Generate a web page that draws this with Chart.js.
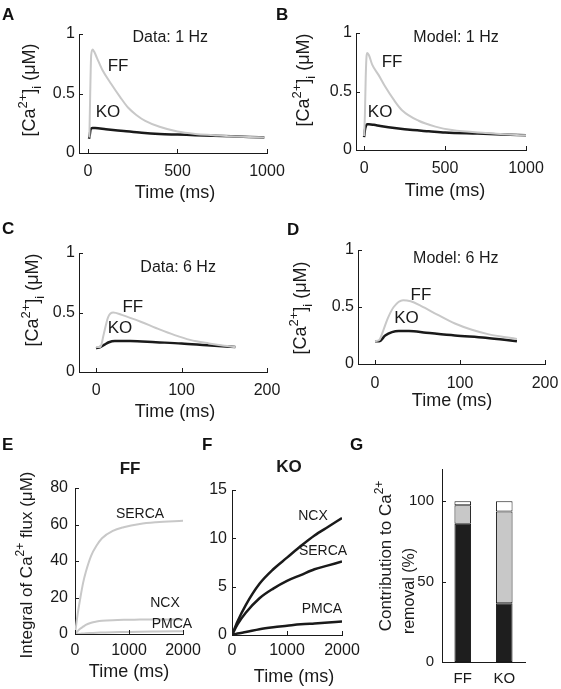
<!DOCTYPE html>
<html>
<head>
<meta charset="utf-8">
<script src="https://cdn.jsdelivr.net/npm/chart.js@4"></script>
<style>
  body { margin: 0; background: #fff; }
  #fig { position: relative; width: 561px; height: 689px; overflow: hidden; font-family: "Liberation Sans", Arial, sans-serif; }
  #fig canvas { position: absolute; }
  .tag { position: absolute; font-weight: bold; font-size: 17px; line-height: 17px; color: #111; }
</style>
</head>
<body>
<div id="fig">
  <canvas id="cA"></canvas><canvas id="cB"></canvas>
  <canvas id="cC"></canvas><canvas id="cD"></canvas>
  <canvas id="cE"></canvas><canvas id="cF"></canvas><canvas id="cG"></canvas>
  <div class="tag" style="left:2px;top:6px">A</div>
  <div class="tag" style="left:276px;top:6px">B</div>
  <div class="tag" style="left:2px;top:220px">C</div>
  <div class="tag" style="left:287px;top:221px">D</div>
  <div class="tag" style="left:2px;top:436px">E</div>
  <div class="tag" style="left:202px;top:436px">F</div>
  <div class="tag" style="left:350px;top:436px">G</div>
</div>
<script>
// A — datos 1 Hz
const A_T_FF = [8, 12, 18, 26, 35, 50, 80, 130, 180, 225, 270, 320, 400, 500, 600, 700, 800, 900, 985];
const A_FF   = [0.13, 0.45, 0.82, 0.87, 0.85, 0.80, 0.70, 0.58, 0.47, 0.38, 0.32, 0.27, 0.22, 0.18, 0.16, 0.15, 0.14, 0.135, 0.13];
const A_T_KO = [6, 10, 15, 25, 40, 100, 200, 300, 400, 500, 600, 700, 800, 900, 985];
const A_KO   = [0.12, 0.15, 0.20, 0.21, 0.21, 0.20, 0.185, 0.17, 0.16, 0.155, 0.15, 0.145, 0.14, 0.135, 0.13];

// B — modelo 1 Hz
const B_T_FF = [0, 5, 10, 15, 20, 30, 50, 90, 131, 183, 234, 337, 440, 543, 750, 1000];
const B_FF   = [0.12, 0.30, 0.62, 0.80, 0.83, 0.81, 0.73, 0.64, 0.54, 0.43, 0.34, 0.25, 0.20, 0.17, 0.145, 0.125];
const B_T_KO = [0, 5, 10, 18, 30, 60, 100, 200, 300, 400, 500, 700, 1000];
const B_KO   = [0.11, 0.17, 0.20, 0.22, 0.22, 0.215, 0.205, 0.185, 0.17, 0.16, 0.15, 0.14, 0.125];

// C — datos 6 Hz
const C_T_FF = [0, 5, 9, 14, 20, 30, 53, 70, 92, 110, 132, 150, 163];
const C_FF   = [0.21, 0.21, 0.32, 0.46, 0.50, 0.48, 0.42, 0.37, 0.31, 0.27, 0.24, 0.22, 0.21];
const C_T_KO = [0, 5, 10, 15, 22, 40, 70, 100, 130, 163];
const C_KO   = [0.20, 0.21, 0.23, 0.25, 0.26, 0.26, 0.25, 0.24, 0.225, 0.21];

// D — modelo 6 Hz
const D_T_FF = [0, 5, 10, 15, 22, 33, 42, 54, 74, 94, 114, 134, 154, 167];
const D_FF   = [0.20, 0.21, 0.30, 0.40, 0.50, 0.56, 0.55, 0.51, 0.43, 0.355, 0.30, 0.26, 0.235, 0.22];
const D_T_KO = [0, 5, 12, 20, 28, 40, 60, 94, 130, 167];
const D_KO   = [0.20, 0.20, 0.25, 0.28, 0.29, 0.29, 0.275, 0.25, 0.23, 0.20];

// E — integral de flujo FF
const E_T     = [0, 50, 100, 150, 200, 300, 400, 500, 700, 900, 1200, 1500, 2000];
const E_SERCA = [0, 11, 20, 28, 34, 43, 48.5, 52.5, 56.5, 58.5, 60.3, 61.2, 62];
const E_NCX   = [0, 1.6, 3, 4, 5, 6.2, 6.8, 7.2, 7.6, 7.8, 7.9, 8.0, 8.0];
const E_PMCA  = [0, 0.1, 0.2, 0.3, 0.4, 0.55, 0.7, 0.8, 1.0, 1.1, 1.25, 1.35, 1.5];

// F — integral de flujo KO
const F_T     = [0, 100, 250, 500, 750, 1000, 1250, 1500, 1750, 2000];
const F_NCX   = [0, 1.4, 3.1, 5.3, 6.8, 8.0, 9.2, 10.3, 11.2, 12.1];
const F_SERCA = [0, 1.1, 2.3, 3.8, 4.8, 5.6, 6.2, 6.8, 7.2, 7.6];
const F_PMCA  = [0, 0.15, 0.3, 0.6, 0.8, 0.95, 1.1, 1.2, 1.3, 1.4];

// G — contribución a la remoción (%)
const G_CATS  = ['FF', 'KO'];
const G_SERCA = [86, 36.5];
const G_NCX   = [11.5, 57];
const G_PMCA  = [2.5, 6.5];

// ticks
const TK_1HZ = [0, 500, 1000];
const TK_6HZ = [0, 100, 200];
const TK_CA  = [0, 0.5, 1];
const TK_FLX = [0, 1000, 2000];
const TK_E_Y = [0, 20, 40, 60, 80];
const TK_F_Y = [0, 5, 10, 15];
const TK_G_Y = [0, 50, 100];

const FONT = '"Liberation Sans", Arial, sans-serif';
const INK  = '#1a1a1a';
const GRAY = '#c8c8c8';

const pts = (t, v) => t.map((x, i) => ({ x, y: v[i] }));

function drawRich(ctx, r, org) {
  const size = r.size, small = Math.round(size * 0.7);
  const fnt = s => `${r.bold ? 'bold ' : ''}${s}px ${FONT}`;
  let w = 0;
  for (const [t, k] of r.segs) { ctx.font = fnt(k ? small : size); w += ctx.measureText(t).width; }
  ctx.save();
  ctx.translate(r.x - org[0], r.y - org[1]);
  if (r.rot) ctx.rotate(r.rot * Math.PI / 180);
  ctx.textAlign = 'left'; ctx.textBaseline = 'alphabetic'; ctx.fillStyle = INK;
  let x = -w / 2; const base = size * 0.36;
  for (const [t, k] of r.segs) {
    ctx.font = fnt(k ? small : size);
    const dy = k === 'sup' ? -size * 0.45 : k === 'sub' ? size * 0.28 : 0;
    ctx.fillText(t, x, base + dy);
    x += ctx.measureText(t).width;
  }
  ctx.restore();
}

const deco = {
  id: 'deco',
  afterDraw(chart, args, o) {
    const { ctx, chartArea: a, scales } = chart;
    ctx.save();
    ctx.strokeStyle = INK; ctx.lineWidth = 1;
    ctx.beginPath();
    if (o.tickX) for (const t of scales.x.ticks) {
      const px = Math.round(scales.x.getPixelForValue(t.value)) + 0.5;
      ctx.moveTo(px, a.bottom); ctx.lineTo(px, a.bottom - 4);
    }
    for (const t of scales.y.ticks) {
      const py = Math.round(scales.y.getPixelForValue(t.value)) + 0.5;
      ctx.moveTo(a.left, py); ctx.lineTo(a.left + 4, py);
    }
    ctx.stroke();
    ctx.fillStyle = INK; ctx.textAlign = 'center'; ctx.textBaseline = 'middle';
    for (const n of o.notes || []) {
      ctx.font = `${n.bold ? 'bold ' : ''}${n.size}px ${FONT}`;
      ctx.fillText(n.t, scales.x.getPixelForValue(n.x), scales.y.getPixelForValue(n.y));
    }
    for (const r of o.rich || []) drawRich(ctx, r, o.origin);
    ctx.restore();
  }
};

function axis(kind, min, max, ticks, size, pad) {
  const ax = {
    type: kind, min, max,
    grid: { display: false, drawTicks: false },
    border: { display: true, color: INK, width: 1 },
    ticks: { color: INK, font: { family: FONT, size }, padding: pad, maxRotation: 0, autoSkip: false }
  };
  if (ticks) {
    ax.afterBuildTicks = s => { s.ticks = ticks.map(v => ({ value: v })); };
    ax.ticks.callback = v => String(v);
  }
  return ax;
}

// box = rect del canvas, plot = rect del área de trazado (coords de la figura)
function panel(id, box, plot, type, data, sx, sy, o) {
  const cv = document.getElementById(id);
  cv.width = box[2]; cv.height = box[3];
  cv.style.left = box[0] + 'px'; cv.style.top = box[1] + 'px';
  cv.style.width = box[2] + 'px'; cv.style.height = box[3] + 'px';
  const padL = plot[0] - box[0], padB = box[1] + box[3] - plot[3];
  sx.afterFit = s => { s.height = padB; s.paddingLeft = 0; s.paddingRight = 0; };
  sy.afterFit = s => { s.width = padL; s.paddingTop = 0; s.paddingBottom = 0; };
  o.origin = [box[0], box[1]];
  return new Chart(cv, {
    type, data,
    options: {
      responsive: false, devicePixelRatio: 1, animation: false,
      layout: { padding: { left: 0, bottom: 0, top: plot[1] - box[1], right: box[0] + box[2] - plot[2] } },
      plugins: { legend: { display: false }, tooltip: { enabled: false }, deco: o },
      scales: { x: sx, y: sy }
    },
    plugins: [deco]
  });
}

function line(d, color, w) {
  return { data: d, borderColor: color, borderWidth: w, pointRadius: 0, fill: false, cubicInterpolationMode: 'monotone' };
}

const CA_LABEL = [['[Ca'], ['2+', 'sup'], [']'], ['i', 'sub'], [' (\u03bcM)']];
const TIME = [['Time (ms)']];

// A
panel('cA', [0, 0, 292, 205], [79, 34, 267, 153], 'line',
  { datasets: [line(pts(A_T_FF, A_FF), GRAY, 2), line(pts(A_T_KO, A_KO), INK, 2.5)] },
  axis('linear', -50, 1000, TK_1HZ, 16, 9), axis('linear', 0, 1, TK_CA, 16, 4),
  { tickX: true,
    notes: [{ t: 'Data: 1 Hz', x: 460, y: 0.97, size: 16 }, { t: 'FF', x: 168, y: 0.73, size: 17 }, { t: 'KO', x: 112, y: 0.34, size: 17 }],
    rich: [{ segs: CA_LABEL, x: 29, y: 90, rot: -90, size: 18 }, { segs: TIME, x: 175, y: 192, size: 18 }] });

// B
panel('cB', [280, 0, 281, 205], [356, 33, 526, 150], 'line',
  { datasets: [line(pts(B_T_FF, B_FF), GRAY, 2), line(pts(B_T_KO, B_KO), INK, 2.5)] },
  axis('linear', -50, 1000, TK_1HZ, 16, 9), axis('linear', 0, 1, TK_CA, 16, 4),
  { tickX: true,
    notes: [{ t: 'Model: 1 Hz', x: 568, y: 0.96, size: 16 }, { t: 'FF', x: 173, y: 0.75, size: 17 }, { t: 'KO', x: 99, y: 0.32, size: 17 }],
    rich: [{ segs: CA_LABEL, x: 303, y: 80, rot: -90, size: 18 }, { segs: TIME, x: 445, y: 190, size: 18 }] });

// C
panel('cC', [0, 205, 292, 217], [79, 253, 267, 372], 'line',
  { datasets: [line(pts(C_T_FF, C_FF), GRAY, 2), line(pts(C_T_KO, C_KO), INK, 2.5)] },
  axis('linear', -20, 200, TK_6HZ, 16, 9), axis('linear', 0, 1, TK_CA, 16, 4),
  { tickX: true,
    notes: [{ t: 'Data: 6 Hz', x: 96, y: 0.88, size: 16 }, { t: 'FF', x: 43, y: 0.54, size: 17 }, { t: 'KO', x: 28, y: 0.37, size: 17 }],
    rich: [{ segs: CA_LABEL, x: 32, y: 300, rot: -90, size: 18 }, { segs: TIME, x: 175, y: 411, size: 18 }] });

// D
panel('cD', [280, 205, 281, 210], [358, 250, 545, 364], 'line',
  { datasets: [line(pts(D_T_FF, D_FF), GRAY, 2), line(pts(D_T_KO, D_KO), INK, 2.5)] },
  axis('linear', -20, 200, TK_6HZ, 16, 10), axis('linear', 0, 1, TK_CA, 16, 4),
  { tickX: true,
    notes: [{ t: 'Model: 6 Hz', x: 95, y: 0.925, size: 16 }, { t: 'FF', x: 54, y: 0.6, size: 17 }, { t: 'KO', x: 37, y: 0.4, size: 17 }],
    rich: [{ segs: CA_LABEL, x: 300, y: 308, rot: -90, size: 18 }, { segs: TIME, x: 452, y: 400, size: 18 }] });

// E
panel('cE', [0, 410, 205, 279], [75, 488, 183, 634], 'line',
  { datasets: [line(pts(E_T, E_SERCA), GRAY, 2), line(pts(E_T, E_NCX), GRAY, 2), line(pts(E_T, E_PMCA), GRAY, 2)] },
  axis('linear', 0, 2000, TK_FLX, 16, 7), axis('linear', 0, 80, TK_E_Y, 16, 7),
  { tickX: true,
    notes: [{ t: 'FF', x: 1019, y: 90, size: 17, bold: true }, { t: 'SERCA', x: 1204, y: 65.8, size: 14 },
            { t: 'NCX', x: 1667, y: 17, size: 14 }, { t: 'PMCA', x: 1796, y: 5.5, size: 14 }],
    rich: [{ segs: [['Integral of Ca'], ['2+', 'sup'], [' flux (\u03bcM)']], x: 26, y: 565, rot: -90, size: 17 },
           { segs: TIME, x: 129, y: 671, size: 18 }] });

// F
panel('cF', [190, 410, 190, 279], [232, 490, 342, 635], 'line',
  { datasets: [line(pts(F_T, F_NCX), INK, 2.5), line(pts(F_T, F_SERCA), INK, 2.5), line(pts(F_T, F_PMCA), INK, 2.5)] },
  axis('linear', 0, 2000, TK_FLX, 16, 6), axis('linear', 0, 15, TK_F_Y, 16, 5),
  { tickX: true,
    notes: [{ t: 'KO', x: 1036, y: 17.3, size: 17, bold: true }, { t: 'NCX', x: 1473, y: 12.3, size: 14 },
            { t: 'SERCA', x: 1655, y: 8.7, size: 14 }, { t: 'PMCA', x: 1636, y: 2.7, size: 14 }],
    rich: [{ segs: TIME, x: 294, y: 676, size: 18 }] });

// G
const bar = (label, d, color) => ({ label, data: d, backgroundColor: color, borderColor: INK, borderWidth: 1,
  borderSkipped: false, barPercentage: 0.4, categoryPercentage: 1 });
panel('cG', [340, 410, 221, 279], [442, 469, 525, 662], 'bar',
  { labels: G_CATS, datasets: [bar('SERCA', G_SERCA, '#1e1e1e'), bar('NCX', G_NCX, '#c8c8c8'), bar('PMCA', G_PMCA, '#ffffff')] },
  Object.assign(axis('category', undefined, undefined, null, 15, 8), { stacked: true, offset: true }),
  Object.assign(axis('linear', 0, 120, TK_G_Y, 15, 8), { stacked: true }),
  { tickX: false,
    rich: [{ segs: [['Contribution to Ca'], ['2+', 'sup']], x: 385, y: 556, rot: -90, size: 17 },
           { segs: [['removal (%)']], x: 408, y: 591, rot: -90, size: 16 }] });
</script>
</body>
</html>
